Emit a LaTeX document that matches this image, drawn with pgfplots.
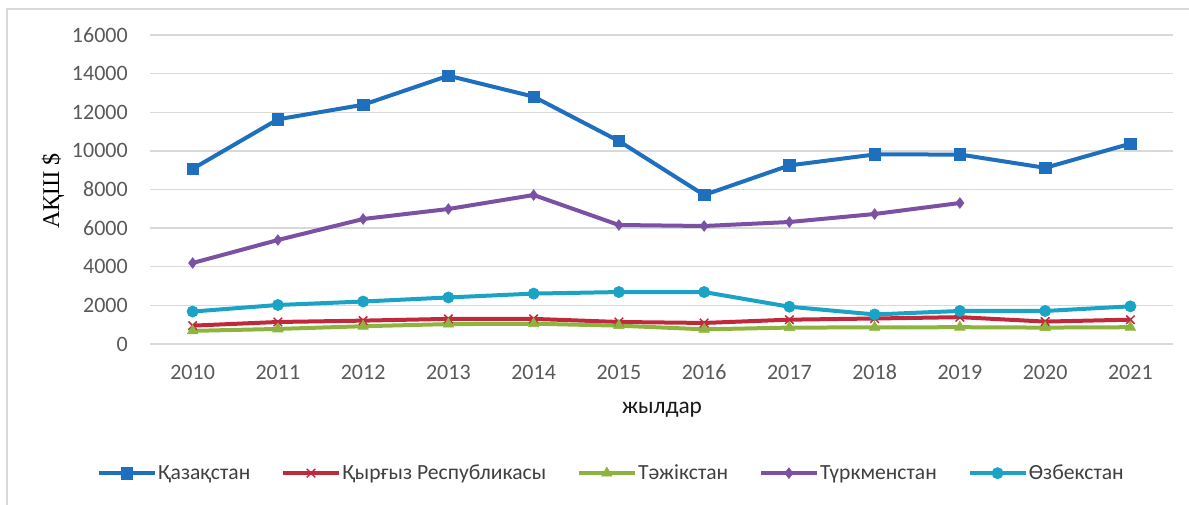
\documentclass[border=0pt]{standalone}
\usepackage{pgfplots}
\pgfplotsset{compat=1.18}
\usepackage{fontspec}
\setmainfont{Carlito}
\newfontfamily\serifff{Liberation Serif}
\definecolor{kz}{HTML}{1F6FBF}
\definecolor{kg}{HTML}{C0283C}
\definecolor{tj}{HTML}{8DB43E}
\definecolor{tm}{HTML}{7B52A3}
\definecolor{uz}{HTML}{1AA3C4}
\definecolor{gridc}{HTML}{D9D9D9}
\definecolor{tickc}{HTML}{595959}
\begin{document}
\begin{tikzpicture}
\useasboundingbox (0,0) rectangle (891.75pt,378pt);
\draw[gridc,line width=0.8pt] (5.25pt,-20pt) -- (5.25pt,371.25pt) -- (900pt,371.25pt);
\begin{axis}[
  at={(112.5pt,120pt)}, anchor=south west,
  scale only axis, width=767.25pt, height=231.75pt,
  xmin=-0.5, xmax=11.5, ymin=0, ymax=16000,
  xtick={0,...,11},
  xticklabels={2010,2011,2012,2013,2014,2015,2016,2017,2018,2019,2020,2021},
  ytick={0,2000,...,16000},
  scaled y ticks=false,
  major tick length=0pt,
  axis line style={draw=none},
  ymajorgrids, grid style={gridc,line width=1.1pt},
  /pgf/number format/.cd, 1000 sep={}, assume math mode=true,
  /pgfplots/.cd,
  tick label style={font=\fontsize{16.5}{19}\selectfont, text=tickc},
  yticklabel style={anchor=east, inner sep=0pt, xshift=-16.5pt},
  xticklabel style={anchor=base, inner sep=0pt, yshift=-26.6pt},
  xlabel={жылдар},
  xlabel style={at={(axis description cs:0.5005,-0.2136)}, anchor=center, font=\fontsize{17.5}{20}\selectfont, text=black!90},
  ylabel={АҚШ \$},
  ylabel style={at={(axis description cs:-0.0948,0.495)}, anchor=center, font=\serifff\fontsize{18}{21}\selectfont},
  legend columns=5,
  legend style={at={(axis description cs:0.4506,-0.418)}, anchor=center, draw=none, fill=none,
    font=\fontsize{16.2}{19}\selectfont, text=black!75,
    nodes={inner xsep=1pt},
    /tikz/every even column/.append style={column sep=22pt}},
  legend cell align=left,
  legend image code/.code={\draw[#1, mark repeat=2, mark phase=2] plot coordinates {(0pt,0pt) (21pt,0pt) (42pt,0pt)};},
  every axis plot/.append style={line width=3pt},
]
\addplot[kz, mark=square*, mark size=4.3pt, mark options={line width=0.5pt}] coordinates {
(0,9070) (1,11634) (2,12387) (3,13891) (4,12807) (5,10510) (6,7715) (7,9248) (8,9813) (9,9812) (10,9122) (11,10373)};
\addlegendentry{Қазақстан}
\addplot[kg, mark=x, mark size=4.5pt, mark options={line width=1.1pt}] coordinates {
(0,950) (1,1140) (2,1210) (3,1300) (4,1300) (5,1140) (6,1090) (7,1260) (8,1320) (9,1390) (10,1160) (11,1260)};
\addlegendentry{Қырғыз Республикасы}
\addplot[tj, mark=triangle*, mark size=4.5pt, mark options={line width=0.5pt}] coordinates {
(0,680) (1,780) (2,920) (3,1030) (4,1050) (5,950) (6,760) (7,850) (8,860) (9,870) (10,850) (11,870)};
\addlegendentry{Тәжікстан}
\addplot[tm, mark=diamond*, mark size=4pt, mark options={line width=0.5pt}] coordinates {
(0,4194) (1,5385) (2,6472) (3,6990) (4,7715) (5,6162) (6,6110) (7,6317) (8,6731) (9,7301)};
\addlegendentry{Түркменстан}
\addplot[uz, mark=*, mark size=4.2pt, mark options={line width=0.5pt}] coordinates {
(0,1680) (1,2020) (2,2200) (3,2410) (4,2610) (5,2690) (6,2690) (7,1930) (8,1530) (9,1710) (10,1710) (11,1950)};
\addlegendentry{Өзбекстан}
\end{axis}
\end{tikzpicture}
\end{document}
